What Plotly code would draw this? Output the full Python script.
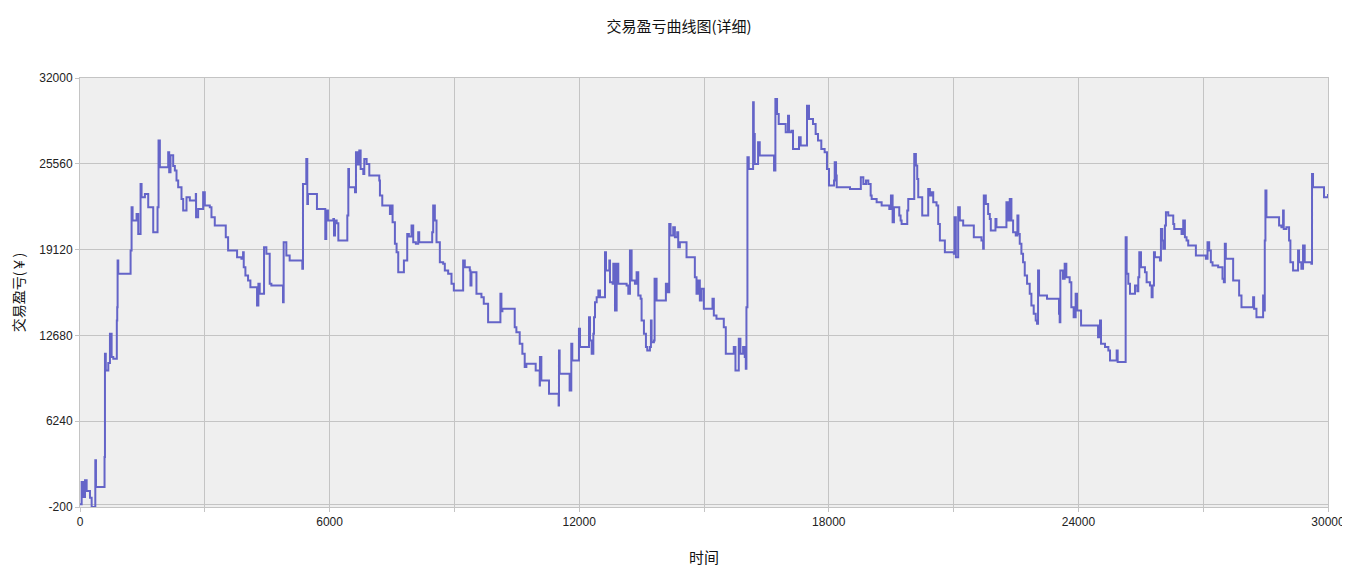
import plotly.graph_objects as go

time_vals = [
    0, 40, 80, 120, 160, 240, 280, 360, 368, 384, 576, 590, 600, 620, 680, 720, 760, 800, 880, 885, 895, 904, 920, 1200,
    1216, 1240, 1264, 1360, 1400, 1456, 1480, 1560, 1640, 1744, 1760, 1856, 1864, 1888, 1920, 2096, 2120, 2144, 2176,
    2240, 2280, 2320, 2360, 2440, 2480, 2560, 2640, 2760, 2784, 2790, 2840, 2944, 2960, 3000, 3120, 3160, 3240, 3480,
    3504, 3560, 3760, 3776, 3880, 3920, 3936, 3976, 4040, 4096, 4240, 4256, 4288, 4320, 4400, 4424, 4480, 4560, 4600,
    4864, 4880, 4896, 4960, 5040, 5320, 5344, 5360, 5440, 5464, 5480, 5680, 5696, 5880, 5896, 5920, 5960,
    6010, 6090, 6106, 6130, 6170, 6210, 6410, 6426, 6450, 6466, 6610, 6634, 6666, 6714, 6746, 6810, 6834, 6890, 6954,
    7170, 7194, 7210, 7266, 7434, 7450, 7490, 7514, 7570, 7610, 7650, 7770, 7786, 7850, 7866, 7906, 7970, 8010, 8074,
    8130, 8154, 8450, 8466, 8490, 8530, 8570, 8650, 8730, 8770, 8850, 8930, 8986, 9194, 9210, 9250, 9370, 9386, 9410,
    9490, 9530, 9650, 9706, 9810, 10090, 10106, 10130, 10154, 10410, 10450, 10490, 10570, 10634, 10690, 10730, 10930,
    10954, 11034, 11050, 11056, 11090, 11250, 11274, 11490, 11506, 11514, 11530, 11754, 11770, 11810, 11834, 11970, 11994,
    12020, 12220, 12236, 12260, 12300, 12340, 12356, 12380, 12420, 12460, 12500, 12596, 12620, 12644, 12724, 12740,
    12804, 12820, 12860, 12900, 12940, 13140, 13180, 13220, 13260, 13340, 13380, 13420, 13476, 13500, 13556, 13604,
    13636, 13700, 13724, 13740, 13796, 13812, 13860, 14060, 14084, 14116, 14164, 14196, 14260, 14300, 14356, 14380,
    14420, 14564, 14580, 14756, 14780, 14820, 14860, 14900, 14940, 14996, 15180, 15204, 15236, 15300, 15444, 15476,
    15524, 15700, 15716, 15756, 15820, 15836, 15876, 15940, 15980, 16004, 16020, 16044, 16076, 16156, 16180, 16196,
    16220, 16300, 16340, 16660, 16684, 16716, 16756, 16796, 16940, 16964, 17020, 17044, 17100, 17140, 17260, 17284,
    17324, 17460, 17476, 17524, 17620, 17684, 17740, 17820, 17900, 17956, 18004,
    18030, 18126, 18142, 18174, 18190, 18510, 18770, 18830, 18894, 18950, 19006, 19030, 19150, 19270, 19430, 19454,
    19494, 19534, 19566, 19670, 19694, 19726, 19750, 19870, 19886, 19910, 20030, 20054, 20094, 20126, 20150, 20230,
    20246, 20366, 20390, 20430, 20470, 20510, 20590, 20630, 20670, 20750, 20790, 20990, 21006, 21022, 21054, 21110,
    21150, 21230, 21470, 21486, 21630, 21670, 21710, 21726, 21774, 21830, 21870, 21894, 21990, 22006, 22030, 22254,
    22270, 22310, 22350, 22390, 22430, 22494, 22534, 22558, 22590, 22630, 22670, 22710, 22766, 22830, 22870, 22926,
    22974, 23006, 23030, 23054, 23230, 23246, 23510, 23534, 23550, 23566, 23630, 23670, 23710, 23790, 23830, 23886,
    23934, 23966,
    24040, 24064, 24456, 24472, 24520, 24544, 24600, 24640, 24720, 24760, 24904, 24920, 24944, 25120, 25136, 25160,
    25200, 25240, 25336, 25360, 25416, 25440, 25464, 25504, 25584, 25600, 25640, 25720, 25760, 25784, 25816, 25840,
    25960, 25984, 26016, 26040, 26080, 26104, 26160, 26240, 26280, 26304, 26440, 26480, 26520, 26560, 26600, 26640,
    26800, 26824, 27000, 27064, 27104, 27144, 27184, 27224, 27320, 27360, 27440, 27464, 27496, 27520, 27544, 27680,
    27720, 27840, 27864, 27920, 28160, 28200, 28224, 28280, 28424, 28440, 28464, 28480, 28496, 28520, 28800, 28824,
    28880, 28920, 28936, 29000, 29064, 29096, 29160, 29240, 29280, 29304, 29360, 29400, 29440, 29560, 29600, 29616,
    29640, 29880, 29904, 30000,
]

pnl_vals = [
    0, 1675, 550, 1800, 1000, 500, -200, -200, 3300, 1300, 1300, 3550, 11300, 10050, 10600, 12800, 11050, 10925, 10925,
    13800, 14800, 18300, 17300, 17300, 19050, 22300, 21300, 21800, 20300, 24050, 23050, 23300, 22300, 22300, 20425,
    20425, 22300, 27300, 25300, 25300, 26425, 24925, 26200, 25400, 25050, 24300, 23800, 22925, 22050, 23050, 22800,
    22800, 23300, 21550, 22175, 22175, 23425, 22425, 22300, 21550, 20925, 20925, 20050, 19050, 19050, 18550, 18425,
    18925, 17800, 17175, 16800, 16300, 16300, 14925, 16550, 15800, 15800, 19300, 18800, 16550, 16425, 16425, 15175,
    19675, 18675, 18300, 18300, 17675, 24050, 25925, 22550, 23300, 23300, 22175, 22175, 19925, 22050, 21300,
    21300, 21425, 20175, 21300, 21100, 19800, 19800, 21675, 25175, 23800, 23425, 26425, 25500, 26550, 25175, 24800,
    25925, 25550, 24675, 24675, 24300, 23175, 22425, 22425, 21800, 22425, 21175, 19550, 18925, 17425, 17425, 18300,
    18300, 20300, 20100, 20925, 19675, 19550, 20425, 19675, 19675, 20425, 22425, 21300, 19675, 18175, 18050, 17550,
    17300, 16550, 16050, 16050, 18300, 17800, 17550, 16425, 17425, 17425, 15800, 15550, 15050, 13675, 13675, 15800,
    14500, 14675, 14675, 13300, 12925, 12050, 11300, 10300, 10550, 10550, 10050, 10050, 8925, 11050, 9300, 9300,
    8300, 8300, 7425, 11550, 9800, 9800, 8550, 12050, 10800, 10800, 13175,
    11800, 11800, 14050, 12300, 11300, 12800, 14050, 15175, 15550, 16050, 15550, 15550, 18925, 17550, 18300, 16675,
    16550, 18050, 14550, 18050, 16550, 16425, 15800, 19050, 16800, 16550, 17425, 15675, 15425, 13800, 12800, 11800,
    11550, 11800, 13800, 12175, 12300, 16925, 15300, 15300, 16550, 15925, 21050, 20175, 20800, 20050, 20425, 19300,
    19675, 19675, 18550, 18550, 17050, 15800, 16800, 15300, 16175, 14675, 14675, 15425, 14175, 13925, 13925, 13300,
    11300, 11300, 11800, 10050, 10050, 12425, 11300, 11800, 11050, 10175, 14800, 26050, 25175, 25175, 30175, 27800,
    25550, 27175, 26175, 26175, 25050, 30425, 29300, 28550, 28550, 27925, 29175, 27925, 28050, 26675, 26675, 27550,
    26925, 26925, 29925, 28925, 28550, 27800, 27300, 26675, 26425, 25175, 23925,
    23925, 24300, 25675, 24675, 23800, 23675, 24550, 24050, 24300, 24050, 23175, 22925, 22675, 22425, 22425, 22175,
    23175, 21175, 22300, 22300, 21675, 21300, 21050, 21050, 22050, 22925, 22925, 26300, 25425, 24425, 23050, 23050,
    21675, 21675, 23675, 23175, 23425, 22675, 22425, 21050, 19800, 19800, 18925, 18925, 18800, 21550, 18550, 22300,
    21300, 20925, 20925, 20050, 20050, 19800, 19175, 23175, 22550, 21800, 21425, 20550, 20550, 21425, 20800, 20800,
    22675, 21300, 22925, 21300, 20425, 20175, 21675, 20300, 19550, 18800, 18175, 17175, 16550, 15800, 14925, 14300,
    13800, 13550, 17550, 15675, 15675, 15425, 15425, 14300, 13675, 17550, 16925, 18050, 17050, 16675, 14800, 14050,
    15800, 14550,
    14550, 13425, 13425, 12550, 13800, 12050, 12050, 11800, 11550, 10800, 10800, 11550, 10675, 10675, 20050, 17300,
    16550, 15800, 15800, 16425, 16000, 17050, 18925, 17800, 17800, 17425, 16675, 16425, 15550, 16425, 18925, 18550,
    18300, 20675, 19800, 19175, 20925, 21925, 21675, 21675, 21050, 20675, 20675, 20300, 21300, 20050, 19800, 19425,
    19425, 18675, 18675, 18425, 19675, 19050, 18175, 17925, 17925, 17800, 17800, 16925, 16675, 19550, 18425, 18425,
    16800, 16800, 15675, 14800, 14800, 15550, 14675, 14050, 14050, 15675, 14550, 19800, 23550, 21550, 21550, 20925,
    20800, 22050, 20675, 20800, 19800, 18175, 17550, 17550, 19050, 18175, 17675, 19425, 18175, 18175, 18050, 24800,
    23800, 23800, 23050, 23300,
]

x_tickvals = [0, 3000, 6000, 9000, 12000, 15000, 18000, 21000, 24000, 27000, 30000]
x_ticktext = ["0", "", "6000", "", "12000", "", "18000", "", "24000", "", "30000"]
y_tickvals = [-200, 6240, 12680, 19120, 25560, 32000]
y_ticktext = ["-200", "6240", "12680", "19120", "25560", "32000"]

fig = go.Figure()
fig.add_trace(go.Scatter(
    x=time_vals, y=pnl_vals, mode="lines",
    line=dict(color="#6464c8", width=2, shape="hv"),
    hoverinfo="x+y", showlegend=False,
))

grid = "#c4c4c4"
fig.update_layout(
    width=1342, height=568,
    margin=dict(l=72, r=22, t=70, b=69, autoexpand=False),
    paper_bgcolor="white", plot_bgcolor="#efefef",
    font=dict(family="Liberation Sans, Arial, Noto Sans CJK SC", size=12, color="#222"),
    title=dict(text="交易盈亏曲线图(详细)", x=0.5, xanchor="center", y=1 - 19 / 568, yanchor="middle",
               font=dict(family="Noto Sans CJK SC, sans-serif", size=15, color="#111")),
    xaxis=dict(
        range=[0, 30000], tickvals=x_tickvals, ticktext=x_ticktext,
        showgrid=True, gridcolor=grid, gridwidth=1, automargin=False,
        zeroline=False, showline=True, linecolor=grid, mirror=True,
        ticks="outside", ticklen=4, tickcolor=grid, ticklabeloverflow="allow",
        title=dict(text="时间", font=dict(family="Noto Sans CJK SC, sans-serif", size=15, color="#111"), standoff=24),
    ),
    yaxis=dict(
        range=[-200, 32000], tickvals=y_tickvals, ticktext=y_ticktext,
        showgrid=True, gridcolor=grid, gridwidth=1, automargin=False,
        zeroline=True, zerolinecolor=grid, zerolinewidth=1,
        showline=True, linecolor=grid, mirror=True,
        ticks="outside", ticklen=4, tickcolor=grid,
        title=dict(text="交易盈亏(￥)", font=dict(family="Noto Sans CJK SC, sans-serif", size=14, color="#111"), standoff=18),
    ),
)

fig.write_html("out.html")
